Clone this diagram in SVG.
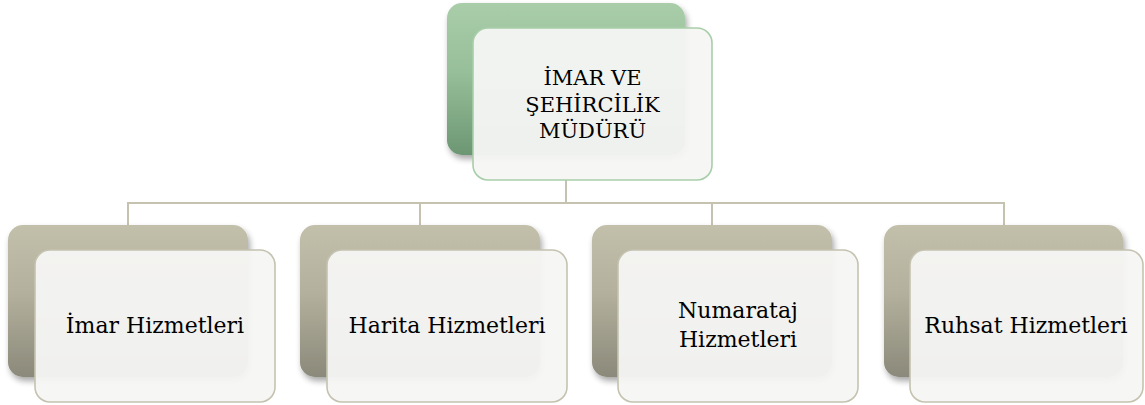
<svg xmlns="http://www.w3.org/2000/svg" width="1145" height="405" viewBox="0 0 1145 405">
<defs>
<linearGradient id="gGray" x1="0" y1="0" x2="0" y2="1">
<stop offset="0" stop-color="#c2bfab"/>
<stop offset="0.45" stop-color="#b3b09d"/>
<stop offset="1" stop-color="#8b897a"/>
</linearGradient>
<linearGradient id="gGreen" x1="0" y1="0" x2="0" y2="1">
<stop offset="0" stop-color="#a9cda9"/>
<stop offset="0.45" stop-color="#97bf99"/>
<stop offset="1" stop-color="#6d9673"/>
</linearGradient>
<filter id="sh" x="-10%" y="-10%" width="125%" height="130%">
<feGaussianBlur in="SourceAlpha" stdDeviation="3"/>
<feOffset dx="2" dy="4"/>
<feComponentTransfer><feFuncA type="linear" slope="0.35"/></feComponentTransfer>
<feMerge><feMergeNode/><feMergeNode in="SourceGraphic"/></feMerge>
</filter>
</defs>
<style>
.back{stroke:none;filter:url(#sh)}
.front{fill:#f6f6f4;fill-opacity:0.95;stroke-width:1.6}
.fg{stroke:#a8cea9}
.fy{stroke:#c5c2b0}
.t{font-family:"DejaVu Serif","Liberation Serif",serif;font-size:22px;fill:#000;text-anchor:middle}
.conn{fill:none;stroke:#c5c2b0;stroke-width:2}
</style>
<rect width="1145" height="405" fill="#ffffff"/>
<g id="connectors">
<path class="conn" d="M566,180 V203 M128,225 V203 H1004 V225 M420,203 V225 M712,203 V225"/>
</g>
<g id="mudur">
<rect class="back" x="447" y="3" width="238" height="152" rx="15" fill="url(#gGreen)"/>
<rect class="front fg" x="473" y="28" width="239" height="152" rx="15"/>
<text class="t" x="592.5" y="85" style="font-size:21px">İMAR VE</text>
<text class="t" x="592.5" y="112" style="font-size:21px">ŞEHİRCİLİK</text>
<text class="t" x="592.5" y="138" style="font-size:21px">MÜDÜRÜ</text>
</g>
<g id="imar">
<rect class="back" x="8" y="225" width="240" height="152" rx="15" fill="url(#gGray)"/>
<rect class="front fy" x="35" y="250" width="240" height="152" rx="15"/>
<text class="t" x="155" y="333">İmar Hizmetleri</text>
</g>
<g id="harita">
<rect class="back" x="300" y="225" width="240" height="152" rx="15" fill="url(#gGray)"/>
<rect class="front fy" x="327" y="250" width="240" height="152" rx="15"/>
<text class="t" x="447" y="333">Harita Hizmetleri</text>
</g>
<g id="numarataj">
<rect class="back" x="592" y="225" width="240" height="152" rx="15" fill="url(#gGray)"/>
<rect class="front fy" x="618" y="250" width="240" height="152" rx="15"/>
<text class="t" x="738" y="318">Numarataj</text>
<text class="t" x="738" y="347">Hizmetleri</text>
</g>
<g id="ruhsat">
<rect class="back" x="884" y="225" width="239" height="152" rx="15" fill="url(#gGray)"/>
<rect class="front fy" x="910" y="250" width="233" height="152" rx="15"/>
<text class="t" x="1026" y="333">Ruhsat Hizmetleri</text>
</g>
</svg>
